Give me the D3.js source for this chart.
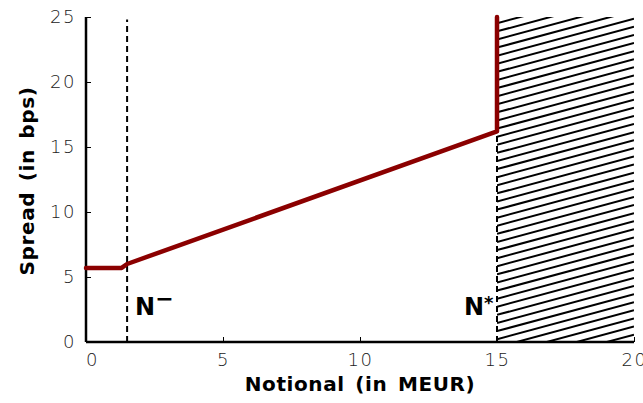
<!DOCTYPE html>
<html><head><meta charset="utf-8">
<script src="https://cdn.jsdelivr.net/npm/d3@7"></script>
<style>
body{margin:0;background:#fff}
svg{display:block}
.tick text{font-family:"DejaVu Sans","Open Sans",sans-serif;font-weight:200;font-size:18px;fill:#222;letter-spacing:1.5px}
.title{font-family:"DejaVu Sans","Liberation Sans",sans-serif;font-weight:bold;font-size:20px;fill:#000;word-spacing:3px;letter-spacing:0.6px}
.nlab{font-family:"DejaVu Sans","Liberation Sans",sans-serif;font-weight:bold;font-size:24px;fill:#000}
</style></head>
<body>
<script>
const xTicks = [0, 5, 10, 15, 20];
const yTicks = [0, 5, 10, 15, 20, 25];
const spreadX = [0, 1.3, 1.5, 15, 15];
const spreadY = [5.7, 5.7, 6.0, 16.2, 25];
const nMinus = 1.5;
const nStar = 15;
const xDomain = [0, 20];
const yDomain = [0, 25];

const W = 643, H = 403;
const m = {left: 86, right: 9, top: 17, bottom: 61};
const svg = d3.select("body").append("svg").attr("width", W).attr("height", H);
const x = d3.scaleLinear().domain(xDomain).range([m.left, W - m.right]);
const y = d3.scaleLinear().domain(yDomain).range([H - m.bottom, m.top]);

const defs = svg.append("defs");
defs.append("clipPath").attr("id", "hclip").append("rect")
  .attr("x", x(nStar)).attr("y", y(25)).attr("width", x(20) - x(nStar)).attr("height", y(0) - y(25));

const hg = svg.append("g").attr("clip-path", "url(#hclip)");
const spacing = 8.1, slope = 0.27;
const x0 = x(nStar), x1 = x(20);
const rise = (x1 - x0) * slope;
const start = y(25) + 6.3;
for (let k = -Math.ceil(rise / spacing) - 2; start + k * spacing < y(0) + rise + spacing; k++) {
  const yy = start + k * spacing;
  hg.append("line").attr("x1", x0).attr("y1", yy).attr("x2", x1).attr("y2", yy - rise)
    .attr("stroke", "#000").attr("stroke-width", 2);
}

const xAxis = svg.append("g").attr("transform", `translate(0,${y(0)})`)
  .call(d3.axisBottom(x).tickValues(xTicks).tickSize(-5).tickPadding(11).tickFormat(d3.format("d")));
xAxis.select(".domain").attr("stroke-width", 2.5).attr("d", `M${x(0)},0H${x(20)}`);
xAxis.selectAll(".tick line").attr("stroke-width", 1);
xAxis.selectAll(".tick text").attr("dx", (d) => d === 0 ? 6 : 0);
const yAxis = svg.append("g").attr("transform", `translate(${x(0)},0)`)
  .call(d3.axisLeft(y).tickValues(yTicks).tickSize(-5).tickPadding(10).tickFormat(d3.format("d")));
yAxis.select(".domain").attr("stroke-width", 2.5).attr("d", `M0,${y(0)}V${y(25)}`);
yAxis.selectAll(".tick line").attr("stroke-width", 1);

[nMinus, nStar].forEach(v => {
  svg.append("line").attr("x1", x(v)).attr("x2", x(v)).attr("y1", y(0)).attr("y2", y(24.8))
    .attr("stroke", "#000").attr("stroke-width", 2).attr("stroke-dasharray", "6,4");
});

const pts = spreadX.map((d, i) => [d, spreadY[i]]);
svg.append("path").datum(pts)
  .attr("d", d3.line().x(d => x(d[0])).y(d => y(d[1])))
  .attr("fill", "none").attr("stroke", "#8b0000").attr("stroke-width", 4.5)
  .attr("stroke-linejoin", "round").attr("stroke-linecap", "round");

const t1 = svg.append("text").attr("class", "nlab").attr("x", x(nMinus) + 8).attr("y", y(0) - 27);
t1.append("tspan").text("N");
t1.append("tspan").attr("dy", -9).attr("font-size", 22).text("\u2212");
const t2 = svg.append("text").attr("class", "nlab").attr("x", x(nStar) - 33).attr("y", y(0) - 27);
t2.append("tspan").text("N");
t2.append("tspan").attr("dy", -6).attr("font-size", 18).text("*");

svg.append("text").attr("class", "title").attr("text-anchor", "middle")
  .attr("x", 360).attr("y", 391).text("Notional (in MEUR)");
svg.append("text").attr("class", "title").attr("text-anchor", "middle")
  .attr("transform", `translate(34,${181}) rotate(-90)`).text("Spread (in bps)");
</script>
</body></html>
